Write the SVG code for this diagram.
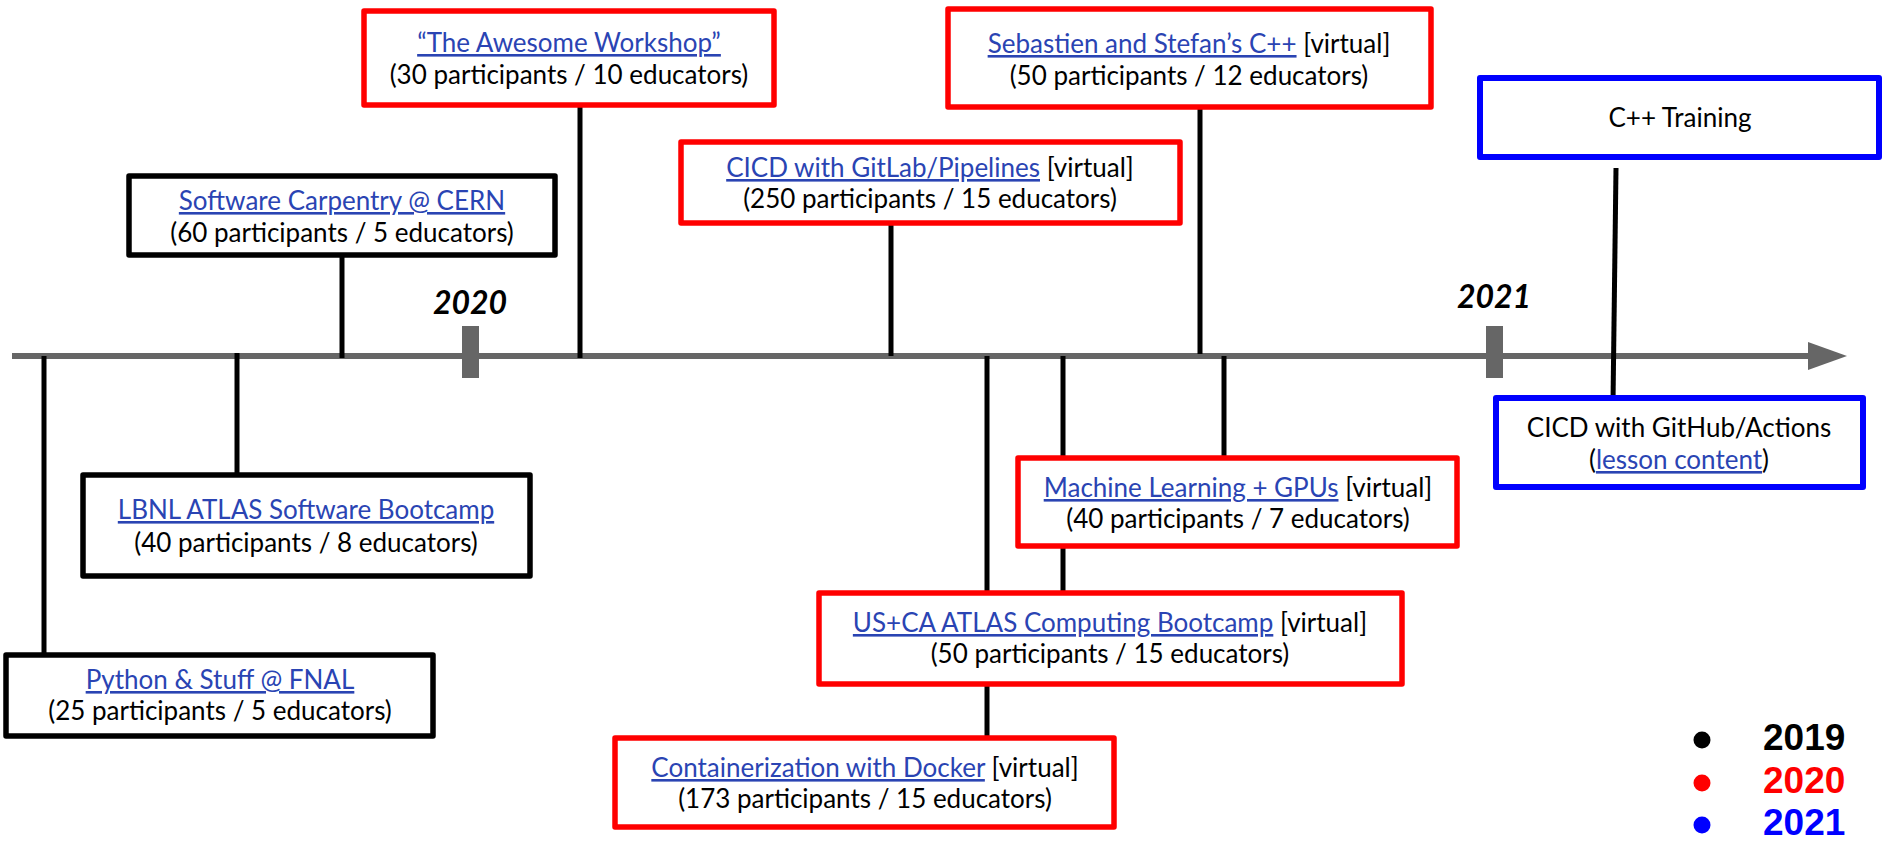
<svg xmlns="http://www.w3.org/2000/svg" width="1885" height="841" viewBox="0 0 1885 841">
<style>
  .box { fill: #ffffff; stroke-width: 5.5; stroke-linejoin: round; }
  .k { stroke: #000000; }
  .r { stroke: #ff0000; }
  .b { stroke: #0000ff; stroke-width: 6; }
  .t { font-family: Lato, "Noto Sans", sans-serif; font-size: 26px; fill: #000000; text-anchor: middle; }
  .lnk { fill: #2a44b3; text-decoration: underline; }
  .conn { stroke: #000000; stroke-width: 5; fill: none; }
  .axis { stroke: #666666; stroke-width: 6; fill: none; }
  .year { font-family: Lato, "Noto Sans", sans-serif; font-size: 32px; font-weight: bold; font-style: italic; fill: #000000; text-anchor: middle; }
  .leg { font-family: "Liberation Sans", Arial, sans-serif; font-size: 37px; font-weight: bold; }
</style>
<defs>
  <marker id="arrow" markerUnits="userSpaceOnUse" markerWidth="40" markerHeight="30" refX="0" refY="14" orient="auto">
    <path d="M0,0 L39,14 L0,28 Z" fill="#666666"/>
  </marker>
</defs>
<rect width="1885" height="841" fill="#ffffff"/>

<g id="timeline">
  <line class="axis" x1="12" y1="356" x2="1808" y2="356" marker-end="url(#arrow)"/>
  <rect x="462" y="326" width="17" height="52" fill="#666666"/>
  <rect x="1486" y="326" width="17" height="52" fill="#666666"/>
  <text class="year" x="470" y="314">2020</text>
  <text class="year" x="1494" y="308">2021</text>
</g>

<g id="connectors">
  <line class="conn" x1="44" y1="356" x2="44" y2="655"/>
  <line class="conn" x1="237" y1="353" x2="237" y2="475"/>
  <line class="conn" x1="342" y1="255" x2="342" y2="358"/>
  <line class="conn" x1="580" y1="105" x2="580" y2="358"/>
  <line class="conn" x1="891" y1="223" x2="891" y2="356"/>
  <line class="conn" x1="1200" y1="107" x2="1200" y2="354"/>
  <line class="conn" x1="987" y1="356" x2="987" y2="738"/>
  <line class="conn" x1="1063" y1="356" x2="1063" y2="593"/>
  <line class="conn" x1="1224" y1="356" x2="1224" y2="458"/>
  <line class="conn" x1="1616" y1="168" x2="1613" y2="403"/>
</g>

<g id="python-fnal">
  <rect class="box k" x="6" y="655" width="427" height="81"/>
  <text class="t" x="220" y="689"><tspan class="lnk">Python &amp; Stuff @ FNAL</tspan></text>
  <text class="t" x="220" y="720">(25 participants / 5 educators)</text>
</g>

<g id="lbnl-bootcamp">
  <rect class="box k" x="83" y="475" width="447" height="101"/>
  <text class="t" x="306" y="519"><tspan class="lnk">LBNL ATLAS Software Bootcamp</tspan></text>
  <text class="t" x="306" y="552">(40 participants / 8 educators)</text>
</g>

<g id="swc-cern">
  <rect class="box k" x="129" y="176" width="426" height="79"/>
  <text class="t" x="342" y="210"><tspan class="lnk">Software Carpentry @ CERN</tspan></text>
  <text class="t" x="342" y="242">(60 participants / 5 educators)</text>
</g>

<g id="awesome-workshop">
  <rect class="box r" x="364" y="11" width="410" height="94"/>
  <text class="t" x="569" y="52"><tspan class="lnk">“The Awesome Workshop”</tspan></text>
  <text class="t" x="569" y="84">(30 participants / 10 educators)</text>
</g>

<g id="cicd-gitlab">
  <rect class="box r" x="681" y="142" width="499" height="81"/>
  <text class="t" x="930" y="177"><tspan class="lnk">CICD with GitLab/Pipelines</tspan> [virtual]</text>
  <text class="t" x="930" y="208">(250 participants / 15 educators)</text>
</g>

<g id="sebastien-stefan-cpp">
  <rect class="box r" x="948" y="9" width="483" height="98"/>
  <text class="t" x="1189" y="53"><tspan class="lnk">Sebastien and Stefan’s C++</tspan> [virtual]</text>
  <text class="t" x="1189" y="85">(50 participants / 12 educators)</text>
</g>

<g id="ml-gpus">
  <rect class="box r" x="1018" y="458" width="439" height="88"/>
  <text class="t" x="1238" y="497"><tspan class="lnk">Machine Learning + GPUs</tspan> [virtual]</text>
  <text class="t" x="1238" y="528">(40 participants / 7 educators)</text>
</g>

<g id="usca-bootcamp">
  <rect class="box r" x="819" y="593" width="583" height="91"/>
  <text class="t" x="1110" y="632"><tspan class="lnk">US+CA ATLAS Computing Bootcamp</tspan> [virtual]</text>
  <text class="t" x="1110" y="663">(50 participants / 15 educators)</text>
</g>

<g id="docker">
  <rect class="box r" x="615" y="738" width="499" height="89"/>
  <text class="t" x="865" y="777"><tspan class="lnk">Containerization with Docker</tspan> [virtual]</text>
  <text class="t" x="865" y="808">(173 participants / 15 educators)</text>
</g>

<g id="cpp-training">
  <rect class="box b" x="1480" y="78" width="399" height="79"/>
  <text class="t" x="1680" y="127">C++ Training</text>
</g>

<g id="cicd-github">
  <rect class="box b" x="1496" y="398" width="367" height="89"/>
  <text class="t" x="1679" y="437">CICD with GitHub/Actions</text>
  <text class="t" x="1679" y="469">(<tspan class="lnk">lesson content</tspan>)</text>
</g>

<g id="legend">
  <circle cx="1702" cy="740" r="8.5" fill="#000000"/>
  <circle cx="1702" cy="783" r="8.5" fill="#ff0000"/>
  <circle cx="1702" cy="825" r="8.5" fill="#0000ff"/>
  <text class="leg" x="1763" y="750" fill="#000000">2019</text>
  <text class="leg" x="1763" y="793" fill="#ff0000">2020</text>
  <text class="leg" x="1763" y="835" fill="#0000ff">2021</text>
</g>
</svg>
